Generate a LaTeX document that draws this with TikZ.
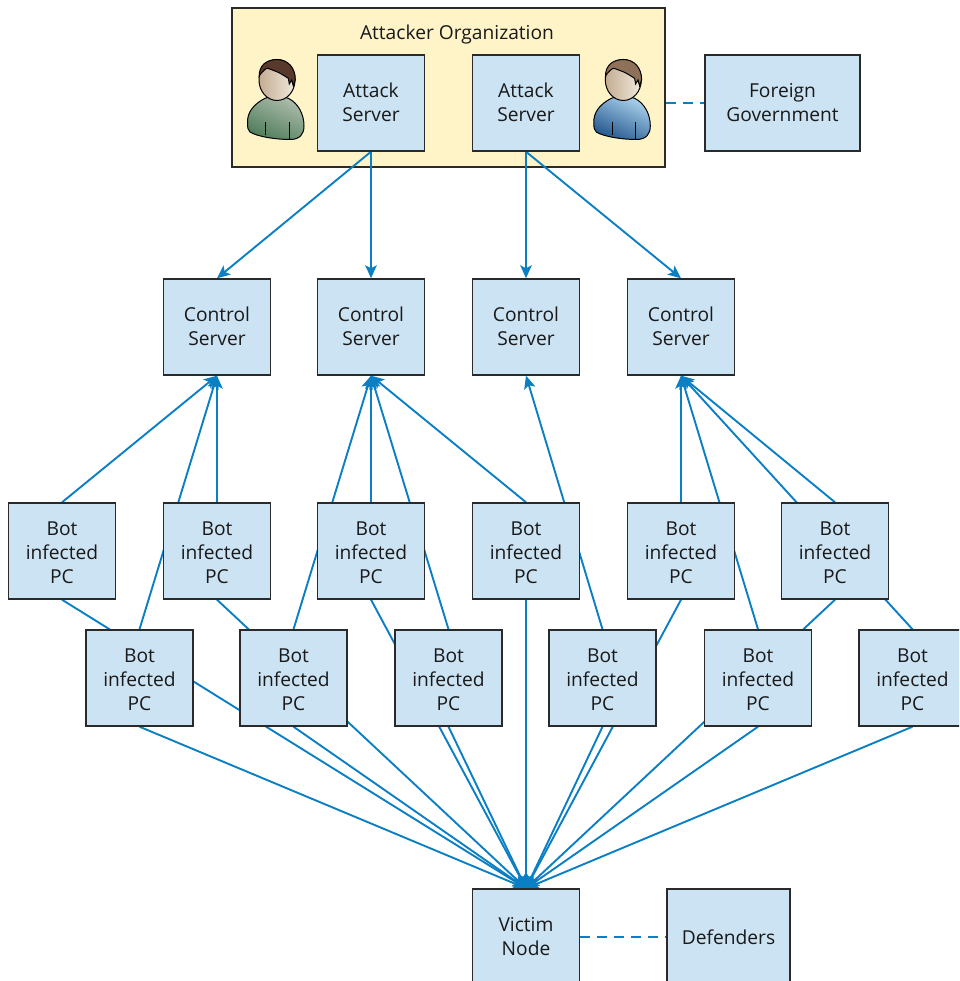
\documentclass[tikz,border=0pt]{standalone}
\usepackage{fontspec}
\setmainfont{Open Sans}
\usetikzlibrary{arrows.meta,backgrounds}
\definecolor{linkblue}{HTML}{0A7FC4}
\definecolor{boxfill}{HTML}{CCE3F3}
\definecolor{orgfill}{HTML}{FFF4C8}
\definecolor{boxline}{HTML}{2A2A2A}
\definecolor{HairA}{HTML}{59392B}
\definecolor{HairB}{HTML}{8F7058}
\definecolor{BodyAL}{HTML}{AEBDAC}
\definecolor{BodyAR}{HTML}{4F7D5B}
\definecolor{BodyBL}{HTML}{ADD3EE}
\definecolor{BodyBR}{HTML}{24588E}
\definecolor{SkinL}{HTML}{C4AC92}
\definecolor{SkinR}{HTML}{F0EADD}
\pgfdeclarelayer{orglayer}
\pgfdeclarelayer{edgelayer}
\pgfsetlayers{orglayer,edgelayer,main}
\newcommand{\bottext}{\rule{0pt}{18pt}Bot\\infected\\PC}
\tikzset{
  boxtext/.style={font=\fontsize{19.2}{24}\selectfont, align=center, text=black!90},
  serverbox/.style={boxtext, draw=boxline, line width=1.4pt, fill=boxfill, minimum width=107pt, minimum height=96pt, inner sep=0pt},
  orgbox/.style={draw=boxline, line width=1.4pt, fill=orgfill, minimum width=433pt, minimum height=159pt, inner sep=0pt},
  link/.style={draw=linkblue, line width=1.9pt},
  arrowlink/.style={link, -{Stealth[length=13pt,width=11.5pt,inset=3pt]}},
  dashlink/.style={link, dash pattern=on 10pt off 7pt},
  outlined/.style={draw=black, line width=1pt}
}
\newcommand{\persondraw}[4]{%
  \begin{scope}[xshift=#1pt]
    \path[outlined, left color=#3, right color=#4, shading angle=-25]
      (265,98.3) .. controls (254,104) and (247,112) .. (247.5,123)
      .. controls (247.5,128) and (248,130) .. (250,132)
      .. controls (258,137) and (277,139.5) .. (290,139.5)
      .. controls (300,139.5) and (304,134) .. (304,126)
      .. controls (304,114) and (298,103) .. (288.3,98.3)
      .. controls (282,96) and (271,96) .. (265,98.3) -- cycle;
    \draw[outlined] (265.7,122) -- (265.7,135);
    \draw[outlined] (289,122) -- (289,139);
    \path[outlined, left color=SkinL, right color=SkinR]
      (277,80) ellipse [x radius=18, y radius=20.5];
    \path[outlined, fill=#2]
      (259.2,76) .. controls (259,66) and (266,59.5) .. (277,59.5)
      .. controls (288,59.5) and (295.5,68) .. (295.3,80)
      -- (293.3,86) -- (291.7,80) -- (289.3,84) -- (288.3,78.3)
      .. controls (283,75) and (280,73) .. (276.7,71.7)
      .. controls (272,70) and (268,68) .. (266.7,68.3)
      .. controls (264,70) and (261,73) .. (259.2,76) -- cycle;
  \end{scope}}
\begin{document}
\begin{tikzpicture}[x=1pt,y=-1pt]
\useasboundingbox (0,0) rectangle (959,981);
\clip (0,0) rectangle (959,981);
% boxes
\begin{pgfonlayer}{orglayer}
\node[orgbox] (org) at (448.5,87.5) {};
\end{pgfonlayer}
\node[boxtext, inner sep=0pt] (orgtitle) at (457,35) {Attacker Organization};
\node[serverbox] (as1) at (371,103) {\raisebox{1pt}{Attack}\\\raisebox{1pt}{Server}};
\node[serverbox] (as2) at (526,103) {\raisebox{1pt}{Attack}\\\raisebox{1pt}{Server}};
\node[serverbox, minimum width=155pt] (gov) at (782.5,103) {Foreign\\Government};
\node[serverbox] (c1) at (217,327) {\raisebox{1pt}{Control}\\\raisebox{1pt}{Server}};
\node[serverbox] (c2) at (371,327) {\raisebox{1pt}{Control}\\\raisebox{1pt}{Server}};
\node[serverbox] (c3) at (526,327) {\raisebox{1pt}{Control}\\\raisebox{1pt}{Server}};
\node[serverbox] (c4) at (681,327) {\raisebox{1pt}{Control}\\\raisebox{1pt}{Server}};
\node[serverbox] (t1) at (62,551) {\bottext};
\node[serverbox] (t2) at (217,551) {\bottext};
\node[serverbox] (t3) at (371,551) {\bottext};
\node[serverbox] (t4) at (526,551) {\bottext};
\node[serverbox] (t5) at (681,551) {\bottext};
\node[serverbox] (t6) at (835,551) {\bottext};
\node[serverbox] (b1) at (139.5,678) {\bottext};
\node[serverbox] (b2) at (293.5,678) {\bottext};
\node[serverbox] (b3) at (448.5,678) {\bottext};
\node[serverbox] (b4) at (602.5,678) {\bottext};
\node[serverbox] (b5) at (758,678) {\bottext};
\node[serverbox] (b6) at (912.5,678) {\bottext};
\node[serverbox] (victim) at (526,937) {Victim\\Node};
\node[serverbox, minimum width=123pt] (def) at (728.5,937) {Defenders};
% people
\persondraw{0}{HairA}{BodyAL}{BodyAR}
\persondraw{346.3}{HairB}{BodyBL}{BodyBR}
% connectors
\begin{pgfonlayer}{edgelayer}
\foreach \a/\b in {as1/c1,as1/c2,as2/c3,as2/c4}
  \draw[arrowlink] (\a.south) -- (\b.north);
\foreach \a/\b in {t1/c1,b1/c1,t2/c1,
  b2/c2,t3/c2,b3/c2,t4/c2,
  b4/c3,
  t5/c4,b5/c4,t6/c4,b6/c4}
  \draw[arrowlink] (\a.north) -- (\b.south);
\foreach \a in {t1,t2,t3,t4,t5,t6,b1,b2,b3,b4,b5,b6}
  \draw[arrowlink] (\a.south) -- (victim.north);
\draw[dashlink] (org.east |- gov.west) -- (gov.west);
\draw[dashlink] (victim.east) -- (def.west);
\end{pgfonlayer}
\end{tikzpicture}
\end{document}
